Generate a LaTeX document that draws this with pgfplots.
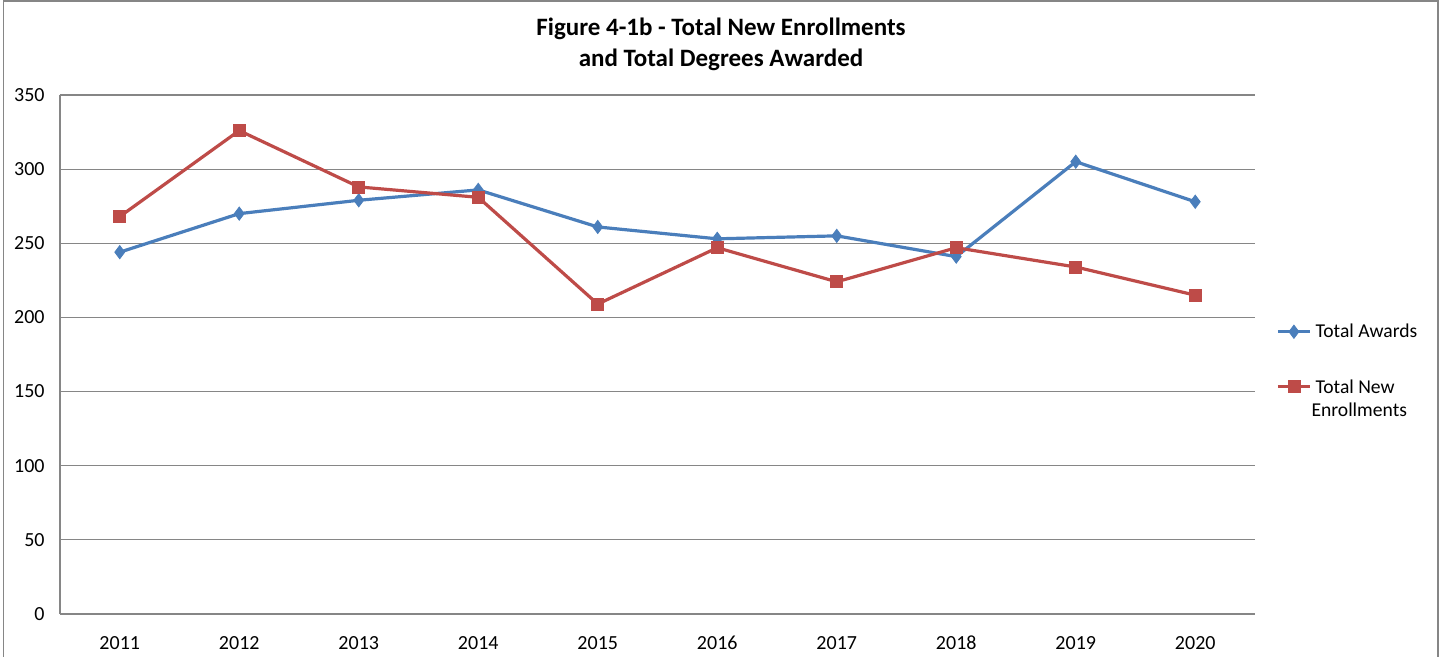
\documentclass[border=0pt]{standalone}
\usepackage{fontspec}
\setmainfont{Carlito}
\usepackage{pgfplots}
\pgfplotsset{compat=1.18}
\definecolor{awblue}{RGB}{74,126,187}
\definecolor{enred}{RGB}{190,75,72}
\definecolor{gridgray}{RGB}{134,134,134}

\begin{document}
\begin{tikzpicture}
\useasboundingbox (0pt,0pt) rectangle (721pt,328.5pt);
\draw[gridgray, line width=0.6pt] (1.8pt,-5pt) -- (1.8pt,328pt) -- (719pt,328pt) -- (719pt,-5pt);
\node[font=\bfseries\fontsize{12.5}{15.5}\selectfont, align=center] at (360.5pt,306.5pt)
  {Figure 4-1b - Total New Enrollments\\and Total Degrees Awarded};
\begin{axis}[
    at={(30pt,21.5pt)}, anchor=south west,
    scale only axis, width=597.5pt, height=259.5pt,
    xmin=0.5, xmax=10.5, ymin=0, ymax=350,
    xtick={1,...,10},
    xticklabels={2011,2012,2013,2014,2015,2016,2017,2018,2019,2020},
    ytick={0,50,...,350},
    axis x line=bottom, axis y line=left,
    axis line style={-, gridgray, line width=0.6pt},
    ymajorgrids, grid style={gridgray, line width=0.6pt},
    major tick length=0pt,
    tick label style={font=\fontsize{10}{12}\selectfont},
    /pgf/number format/assume math mode=true,
    yticklabel style={inner sep=0pt, anchor=east, xshift=-7.5pt},
    xticklabel style={inner sep=0pt, anchor=base, yshift=-18pt},
    legend style={at={(1.0125,0.576)}, anchor=north west, draw=none, fill=none,
        font=\fontsize{9.8}{11.5}\selectfont, row sep=14.5pt},
    legend cell align=left,
    legend image code/.code={
        \draw[mark repeat=2, mark phase=2] plot coordinates {(0pt,0pt) (8pt,0pt) (16pt,0pt)};},
    every axis plot/.append style={line width=1.6pt},
]
\addplot[awblue, mark=diamond*, mark size=3.3pt, mark options={solid, line width=0.4pt}] coordinates {
    (1,244) (2,270) (3,279) (4,286) (5,261) (6,253) (7,255) (8,241) (9,305) (10,278)
};
\addlegendentry{Total Awards}
\addplot[enred, mark=square*, mark size=3pt, mark options={solid, line width=0.4pt}] coordinates {
    (1,268) (2,326) (3,288) (4,281) (5,209) (6,247) (7,224) (8,247) (9,234) (10,215)
};
\addlegendentry{\begin{tabular}[t]{@{}l@{}}Total New\\\hspace*{-2pt}Enrollments\end{tabular}}
\end{axis}
\end{tikzpicture}
\end{document}
